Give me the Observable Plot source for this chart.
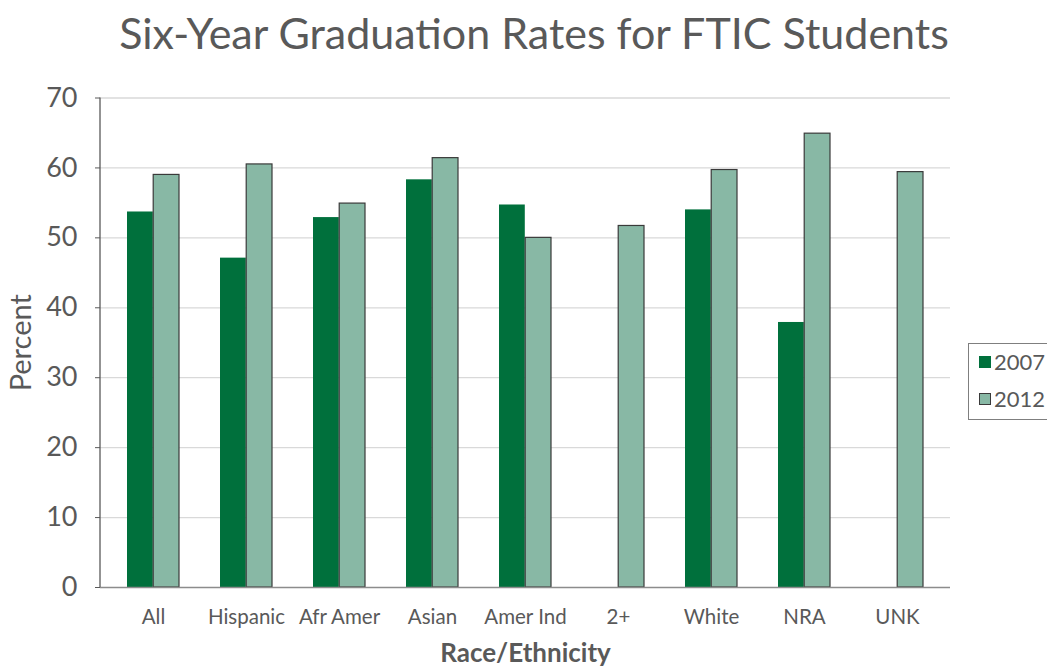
<!DOCTYPE html>
<html>
<head>
<meta charset="utf-8">
<script src="https://cdn.jsdelivr.net/npm/d3@7"></script>
<script src="https://cdn.jsdelivr.net/npm/@observablehq/plot@0.6"></script>
<style>
  html, body { margin: 0; padding: 0; background: #fff; overflow: hidden; }
  #wrap { position: relative; width: 1047px; height: 671px; overflow: hidden; font-family: Lato, "Open Sans", sans-serif; color: #595959; }
  #title { position: absolute; left: 0; top: 0; width: 1068px; height: 70px; text-align: center; font-size: 43px; line-height: 66px; color: #595959; }
  #chart { position: absolute; left: 0; top: 70px; }
  #legend { position: absolute; left: 968px; top: 343px; width: 100px; height: 77px; border: 1px solid #7f7f7f; box-sizing: border-box; font-size: 22px; color: #595959; }
  .item { position: absolute; left: 10px; display: flex; align-items: center; }
  .sw { width: 12px; height: 12px; margin-right: 3px; box-sizing: border-box; }
  g[aria-label="x-axis label"] text { font-weight: bold; font-size: 26px; }
  g[aria-label="y-axis label"] text { font-size: 29px; }
</style>
</head>
<body>
<div id="wrap">
  <div id="title">Six-Year Graduation Rates for FTIC Students</div>
  <div id="chart"></div>
  <div id="legend"></div>
</div>
<script>
const categories = ["All", "Hispanic", "Afr Amer", "Asian", "Amer Ind", "2+", "White", "NRA", "UNK"];
const years = ["2007", "2012"];
const values2007 = [53.7, 47.1, 52.9, 58.3, 54.7, null, 54.0, 37.9, null];
const values2012 = [59.0, 60.5, 54.9, 61.4, 50.0, 51.7, 59.7, 64.9, 59.4];
const yTicks = [0, 10, 20, 30, 40, 50, 60, 70];
const colors = { "2007": "#00703c", "2012": "#88b8a5" };

const data = [];
categories.forEach((c, i) => {
  if (values2007[i] != null) data.push({ category: c, year: "2007", value: values2007[i] });
  if (values2012[i] != null) data.push({ category: c, year: "2012", value: values2012[i] });
});

const W = 1047, H = 601;
const mL = 100, mR = 97, mT = 27.5, mB = 84;
const pIn = 0.44, pOut = 0.26;
const step = (W - mL - mR) / (categories.length - pIn + 2 * pOut);
const half = step * (1 - pIn) / 2;

const plot = Plot.plot({
  width: W,
  height: H,
  marginLeft: mL,
  marginRight: mR,
  marginTop: mT,
  marginBottom: mB,
  style: { fontFamily: "Lato, 'Open Sans', sans-serif", color: "#595959", background: "#fff" },
  x: { domain: categories, paddingInner: pIn, paddingOuter: pOut, align: 0.5, label: "Race/Ethnicity" },
  y: { domain: [0, 70], ticks: yTicks, label: "Percent" },
  marks: [
    Plot.gridY(yTicks.filter(d => d > 0), { stroke: "#d9d9d9", strokeOpacity: 1, strokeWidth: 1.3 }),
    Plot.barY(data.filter(d => d.year === "2007"), {
      x: "category", y: "value", fill: colors["2007"], insetRight: half, insetLeft: 0
    }),
    Plot.barY(data.filter(d => d.year === "2012"), {
      x: "category", y: "value", fill: colors["2012"], stroke: "#3a3a3a", strokeWidth: 1.2, insetLeft: half, insetRight: 0
    }),
    Plot.ruleY([0], { stroke: "#8c8c8c", strokeWidth: 1.5 }),
    Plot.axisY({
      ticks: yTicks, tickSize: 5, tickPadding: 18, fontSize: 27, stroke: "#595959",
      label: "Percent", labelAnchor: "center", labelArrow: "none", labelOffset: 90
    }),
    Plot.axisX({
      tickSize: 0, tickPadding: 22, fontSize: 20.5,
      label: "Race/Ethnicity", labelAnchor: "center", labelArrow: "none", labelOffset: 74
    })
  ]
});
document.getElementById("chart").appendChild(plot);

// y-axis line along the left edge of the x range
const xr = plot.scale("x").range;
const yr = plot.scale("y").range;
d3.select(plot).append("line")
  .attr("x1", xr[0]).attr("x2", xr[0])
  .attr("y1", yr[0]).attr("y2", yr[1])
  .attr("stroke", "#595959").attr("stroke-width", 1.3);

// legend
const legend = document.getElementById("legend");
years.forEach((y, i) => {
  const it = document.createElement("div");
  it.className = "item";
  it.style.top = (i === 0 ? 4 : 41) + "px";
  const sw = document.createElement("div");
  sw.className = "sw";
  sw.style.background = colors[y];
  if (y === "2012") sw.style.border = "1px solid #3a3a3a";
  const t = document.createElement("span");
  t.textContent = y;
  it.appendChild(sw); it.appendChild(t);
  legend.appendChild(it);
});
</script>
</body>
</html>
